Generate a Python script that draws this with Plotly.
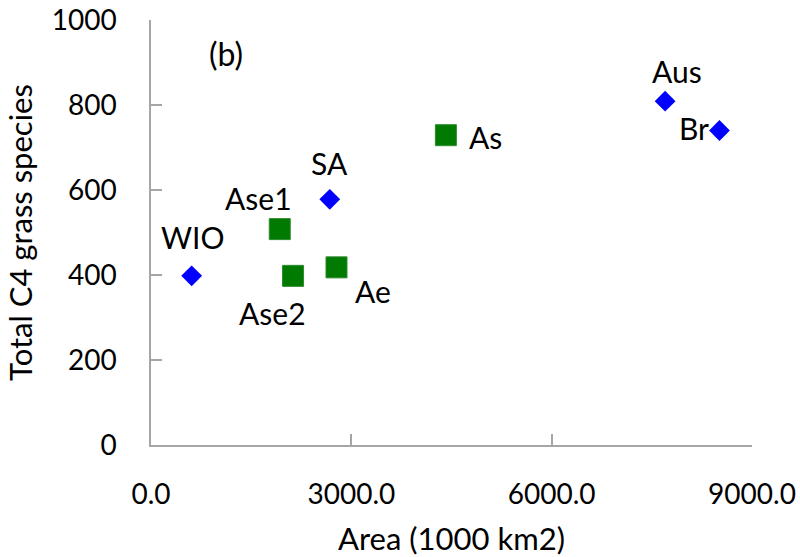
import plotly.graph_objects as go

# Regions plotted as blue diamonds
dia_names = ["WIO", "SA", "Aus", "Br"]
dia_area = [609, 2677, 7699, 8513]
dia_species = [398, 578, 809, 740]

# Regions plotted as green squares
sq_names = ["Ase1", "Ase2", "Ae", "As"]
sq_area = [1928, 2127, 2778, 4416]
sq_species = [508, 398, 418, 729]

x_ticks = [0, 3000, 6000, 9000]
x_ticklabels = ["0.0", "3000.0", "6000.0", "9000.0"]
y_ticks = [0, 200, 400, 600, 800, 1000]

# label offsets (pixels) for each region name
label_offsets = {
    "WIO": (1, 39), "SA": (0, 36), "Aus": (12, 30), "Br": (-25, 3),
    "Ase1": (-21, 31), "Ase2": (-21, -37), "Ae": (36, -24), "As": (40, -2),
}

FONT = "Lato"
TICK_FS = 28
TITLE_FS = 31
LABEL_FS = 30

fig = go.Figure()
fig.add_trace(go.Scatter(
    x=dia_area, y=dia_species, mode="markers",
    marker=dict(symbol="diamond", size=16, color="#0000ff", line=dict(width=0)),
    showlegend=False, cliponaxis=False))
fig.add_trace(go.Scatter(
    x=sq_area, y=sq_species, mode="markers",
    marker=dict(symbol="square", size=21, color="#007a00", line=dict(width=1, color="#2e8b2e")),
    showlegend=False, cliponaxis=False))

for names, xs, ys in [(dia_names, dia_area, dia_species), (sq_names, sq_area, sq_species)]:
    for n, xv, yv in zip(names, xs, ys):
        dx, dy = label_offsets[n]
        fig.add_annotation(x=xv, y=yv, text=n, showarrow=False, xshift=dx, yshift=dy,
                           xanchor="center", yanchor="middle",
                           font=dict(family=FONT, size=LABEL_FS, color="black"))

fig.add_annotation(x=(225.7 - 151) / 601, y=(445 - 54) / 425, xref="paper", yref="paper", text="(b)",
                   xanchor="center", yanchor="middle",
                   showarrow=False, font=dict(family=FONT, size=32, color="black"))

axis_common = dict(showline=True, linecolor="#a6a6a6", linewidth=1.5, ticks="inside",
                   ticklen=11, tickcolor="#a6a6a6", tickwidth=1.5, showgrid=False,
                   zeroline=False, automargin=False, ticklabeloverflow="allow",
                   tickfont=dict(family=FONT, size=TICK_FS, color="black"))
fig.update_xaxes(range=[0, 9000], tickvals=x_ticks, ticktext=x_ticklabels,
                 title=dict(text="Area (1000 km2)", font=dict(family=FONT, size=TITLE_FS, color="black"), standoff=20),
                 ticklabelstandoff=24, **axis_common)
fig.update_yaxes(range=[0, 1000], tickvals=y_ticks,
                 title=dict(text="Total C4 grass species", font=dict(family=FONT, size=TITLE_FS, color="black"), standoff=10),
                 ticklabelstandoff=27, **axis_common)

fig.update_layout(width=800, height=557, margin=dict(l=151, r=48, t=20, b=112),
                  plot_bgcolor="white", paper_bgcolor="white")
# remove the browser's default page margin so the figure fills the window exactly
fig.write_html("out.html", config={"displayModeBar": False},
               post_script="document.body.style.margin='0';")
